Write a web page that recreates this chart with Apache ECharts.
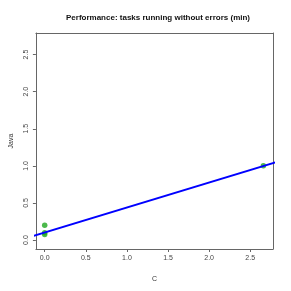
<!DOCTYPE html>
<html><head><meta charset="utf-8">
<script src="https://cdn.jsdelivr.net/npm/echarts@6/dist/echarts.min.js"></script>
<style>html,body{margin:0;padding:0;background:#fff}#c{width:291px;height:291px}</style>
</head><body><div id="c"></div>
<script>
var titleText = "Performance: tasks running without errors (min)";
var xName = "C";
var yName = "Java";
var pointsX = [0, 0, 0, 2.66];
var pointsY = [0.2, 0.1, 0.077, 1.0];
var fitX = [-0.2, 3.0];
var fitY = [0.035, 1.113];
var tickValues = [0, 0.5, 1.0, 1.5, 2.0, 2.5];
var axisMin = -0.107, axisMaxX = 2.777, axisMinY = -0.12, axisMaxY = 2.79;

var pts = pointsX.map(function(x, i){ return [x, pointsY[i]]; });
var fit = fitX.map(function(x, i){ return [x, fitY[i]]; });
var lineCol = '#666';
var lblStyle = {fontFamily:'Liberation Sans', fontSize:7, color:'#444'};
function mainAxis(name, min, max, pos, gap, rot) {
  return {
    type:'value', position:pos, min:min, max:max,
    name:name, nameLocation:'middle', nameGap:gap,
    nameTextStyle:{fontFamily:'Liberation Sans', fontSize:7, color:'#333'},
    axisLine:{show:true, onZero:false, lineStyle:{color:lineCol, width:1}},
    axisTick:{show:true, inside:false, length:3, customValues:tickValues, lineStyle:{color:lineCol}},
    axisLabel:Object.assign({show:true, margin:6, rotate:rot, customValues:tickValues,
      formatter:function(v){return v.toFixed(1);}}, lblStyle),
    splitLine:{show:false}
  };
}
function boxAxis(min, max, pos) {
  return {type:'value', position:pos, min:min, max:max,
    axisLine:{show:true, onZero:false, lineStyle:{color:lineCol, width:1}},
    axisTick:{show:false}, axisLabel:{show:false}, splitLine:{show:false}};
}
var chart = echarts.init(document.getElementById('c'), null, {renderer:'canvas'});
chart.setOption({
  backgroundColor:'#fff',
  animation:false,
  title:{text:titleText, left:153, top:9, textAlign:'center',
    textStyle:{fontFamily:'Liberation Sans', fontSize:8, fontWeight:'bold', color:'#111'}},
  grid:{left:34, right:18, top:33, bottom:42},
  xAxis:[mainAxis(xName, axisMin, axisMaxX, 'bottom', 27, 0), boxAxis(axisMin, axisMaxX, 'top')],
  yAxis:[mainAxis(yName, axisMinY, axisMaxY, 'left', 20, 90), boxAxis(axisMinY, axisMaxY, 'right')],
  series:[
    {type:'line', data:fit, xAxisIndex:0, yAxisIndex:0, symbol:'none', clip:true,
      lineStyle:{color:'#0000ff', width:2}, z:3},
    {type:'scatter', data:pts, xAxisIndex:0, yAxisIndex:0, symbol:'circle', symbolSize:5.5,
      itemStyle:{color:'#1fa81f'}, z:2}
  ]
});
</script></body></html>
